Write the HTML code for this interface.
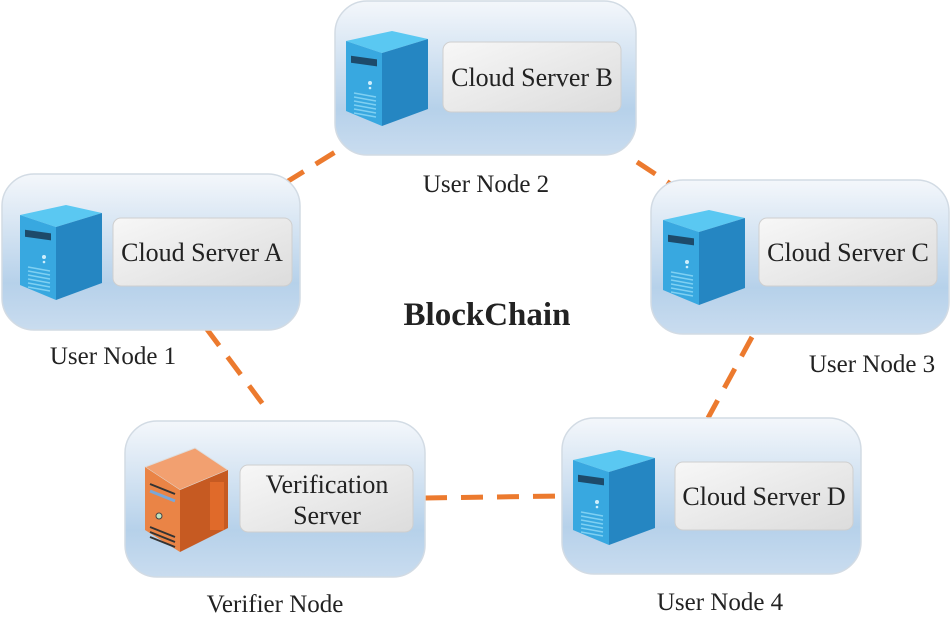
<!DOCTYPE html>
<html><head><meta charset="utf-8"><style>
body{margin:0;background:#fff;}
svg text{font-family:"Liberation Serif",serif;}
</style></head><body>
<svg width="951" height="617" viewBox="0 0 951 617" xmlns="http://www.w3.org/2000/svg">
<defs>
<linearGradient id="bg" x1="0" y1="0" x2="0" y2="1">
<stop offset="0" stop-color="#f4f7fb"/><stop offset="0.7" stop-color="#b6d1ea"/><stop offset="1" stop-color="#c9dcef"/>
</linearGradient>
<linearGradient id="lb" x1="0" y1="0" x2="1" y2="1">
<stop offset="0" stop-color="#f7f7f7"/><stop offset="1" stop-color="#dcdcdc"/>
</linearGradient>
<g id="srv">
<polygon points="0,10 46,0 82,8 36,22" fill="#5ac8f2"/>
<polygon points="0,10 36,22 36,95 0,80" fill="#38a8e0"/>
<polygon points="36,22 82,8 82,78 36,95" fill="#2586c2"/>
<rect x="5" y="27" width="26" height="7" fill="#1d4a6a" transform="skewY(8) translate(0,-3)"/>
<g stroke="#7fd0f2" stroke-width="1.5">
<line x1="8" y1="62" x2="30" y2="66"/><line x1="8" y1="66" x2="30" y2="70"/><line x1="8" y1="70" x2="30" y2="74"/><line x1="8" y1="74" x2="30" y2="78"/><line x1="8" y1="78" x2="30" y2="82"/><line x1="8" y1="82" x2="30" y2="86"/>
</g>
<circle cx="24" cy="52" r="2" fill="#cfeefc"/><circle cx="24" cy="57" r="1.3" fill="#cfeefc"/>
</g>
</defs>
<g stroke="#ec7a2e" stroke-width="5" stroke-dasharray="22,14" fill="none">
<line x1="285" y1="183" x2="358" y2="138"/>
<line x1="637" y1="162" x2="672" y2="185"/>
<line x1="206" y1="328" x2="265" y2="407"/>
<line x1="752" y1="337" x2="708" y2="418"/>
<line x1="425" y1="498" x2="562" y2="496"/>
</g>
<g stroke="#d2dbe4" stroke-width="1.5" fill="url(#bg)">
<rect x="2" y="174" width="298" height="156" rx="32"/>
<rect x="335" y="1" width="301" height="154" rx="32"/>
<rect x="651" y="180" width="298" height="154" rx="32"/>
<rect x="125" y="421" width="300" height="156" rx="32"/>
<rect x="562" y="418" width="299" height="156" rx="32"/>
</g>
<g stroke="#cfcfcf" stroke-width="1" fill="url(#lb)">
<rect x="113" y="218" width="179" height="68" rx="8"/>
<rect x="443" y="42" width="178" height="70" rx="8"/>
<rect x="759" y="218" width="178" height="68" rx="8"/>
<rect x="240" y="465" width="173" height="67" rx="8"/>
<rect x="675" y="462" width="178" height="68" rx="8"/>
</g>
<use href="#srv" x="20" y="205"/>
<use href="#srv" x="346" y="31"/>
<use href="#srv" x="663" y="210"/>
<use href="#srv" x="573" y="450"/>
<g>
<polygon points="145,467 195,448 228,470 180,490" fill="#f2a070" stroke="#ddd" stroke-width="1"/>
<polygon points="145,467 180,490 180,552 145,530" fill="#ea8446"/>
<polygon points="180,490 228,470 228,528 180,552" fill="#c65a22"/>
<rect x="210" y="482" width="14" height="48" fill="#e06a2a"/>
<line x1="150" y1="484" x2="175" y2="494" stroke="#333" stroke-width="2"/>
<line x1="150" y1="491" x2="175" y2="501" stroke="#7aa7d8" stroke-width="3"/>
<circle cx="159" cy="516" r="3" fill="#bfe4c0" stroke="#444"/>
<g stroke="#333" stroke-width="1.8"><line x1="150" y1="527" x2="175" y2="537"/><line x1="150" y1="532" x2="175" y2="542"/><line x1="150" y1="537" x2="175" y2="547"/></g>
</g>
<g font-size="26" fill="#222" text-anchor="middle">
<text x="202" y="261">Cloud Server A</text>
<text x="532" y="86">Cloud Server B</text>
<text x="848" y="261">Cloud Server C</text>
<text x="764" y="505">Cloud Server D</text>
<text x="327" y="493">Verification</text>
<text x="327" y="524">Server</text>
<text x="113" y="364" font-size="25">User Node 1</text>
<text x="486" y="192" font-size="25">User Node 2</text>
<text x="872" y="372" font-size="25">User Node 3</text>
<text x="720" y="610" font-size="25">User Node 4</text>
<text x="275" y="612" font-size="25">Verifier Node</text>
<text x="487" y="325" font-size="33" font-weight="bold">BlockChain</text>
</g>
</svg>
</body></html>
